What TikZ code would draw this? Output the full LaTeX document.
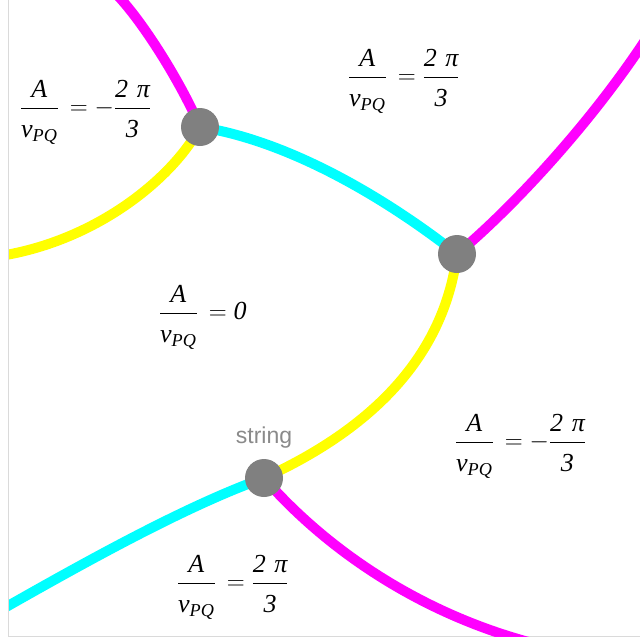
\documentclass[tikz,border=0pt]{standalone}
\usepackage{amsmath}
\usepackage{fontspec}
\setmainfont{Liberation Serif}
\newfontfamily\labelsans{Liberation Sans}
\definecolor{mag}{HTML}{FF00FF}
\definecolor{cya}{HTML}{00FFFF}
\definecolor{yel}{HTML}{FFFF00}
\definecolor{vgray}{HTML}{808080}
\definecolor{tgray}{HTML}{8A8A8A}
\definecolor{framec}{HTML}{DADADA}
\pgfdeclarelayer{bg}
\pgfsetlayers{bg,main}
\newcommand\AV{\dfrac{\textit{A}}{\rule{0pt}{26pt}\textit{v\textsubscript{PQ}}}}
\newcommand\TP{\dfrac{\textit{2\,\,π}}{\rule{0pt}{26pt}\textit{3}}}
\newcommand\EQ{\mathrel{\,=}}
\begin{document}
\begin{tikzpicture}[x=1pt,y=-1pt,
  vertex/.style={circle,fill=vgray,draw=none,minimum size=38pt,inner sep=0pt},
  wire/.style={line width=10pt},
  lbl/.style={anchor=base west,inner sep=0pt,font=\fontsize{26}{30}\selectfont},
  strlbl/.style={anchor=base,inner sep=0pt,text=tgray,font=\labelsans\fontsize{23}{27}\selectfont}]
\useasboundingbox (0,0) rectangle (640,641);
% vertices
\node[vertex] (n1) at (200,127) {};
\node[vertex] (n2) at (457,254) {};
\node[vertex] (n3) at (264,478) {};
\coordinate (e1) at (110,-12);
\coordinate (e2) at (0,256);
\coordinate (e3) at (648,36);
\coordinate (e4) at (-8,615);
\coordinate (e5) at (540,645);
% background, frame and strings
\begin{pgfonlayer}{bg}
\fill[white] (0,0) rectangle (640,641);
\draw[framec,line width=1pt] (8.5,0) -- (8.5,636.5) -- (640,636.5);
\begin{scope}
\clip (9,0) rectangle (640,636);
\draw[wire,mag] (e1) .. controls (137,12) and (180,80) .. (n1.center);
\draw[wire,yel] (n1.center) .. controls (175,175) and (100,240) .. (e2);
\draw[wire,cya] (n1.center) .. controls (290,141) and (387,199) .. (n2.center);
\draw[wire,mag] (n2.center) .. controls (510,210) and (590,125) .. (e3);
\draw[wire,yel] (n2.center) .. controls (445,350) and (380,425) .. (n3.center);
\draw[wire,cya] (n3.center) .. controls (183,507) and (80,565) .. (e4);
\draw[wire,mag] (n3.center) .. controls (325,548) and (420,615) .. (e5);
\end{scope}
\end{pgfonlayer}
% labels
\node[lbl] (l1) at (19.8,114.5) {$\AV \EQ -\TP$};
\node[lbl] (l2) at (347.8,83.5) {$\AV \EQ \TP$};
\node[lbl] (l3) at (158.8,319.5) {$\AV \EQ \textit{0}$};
\node[lbl] (l4) at (454.8,448.5) {$\AV \EQ -\TP$};
\node[lbl] (l5) at (176.8,589.5) {$\AV \EQ \TP$};
\node[strlbl] (s) at (264,443) {string};
\end{tikzpicture}
\end{document}
